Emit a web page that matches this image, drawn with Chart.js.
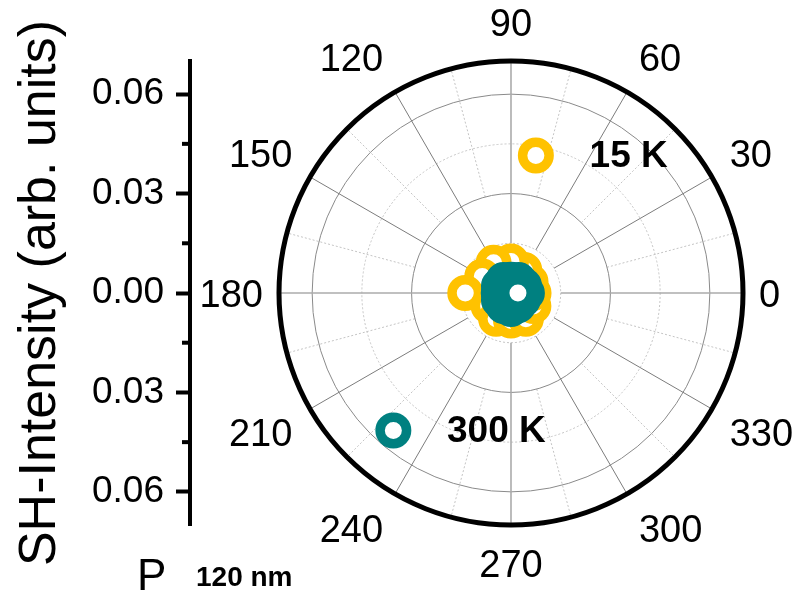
<!DOCTYPE html>
<html>
<head>
<meta charset="utf-8">
<script src="https://cdn.jsdelivr.net/npm/chart.js@4.4.1/dist/chart.umd.min.js"></script>
<style>
  html, body { margin: 0; padding: 0; background: #fff; }
  canvas { display: block; }
</style>
</head>
<body>
<canvas id="shg" width="795" height="600"></canvas>
<script>
// Polarisation angle of the analyser (degrees)
const angles = [0, 30, 60, 90, 120, 150, 180, 210, 240, 270, 300, 330, 360];
// SH intensity (arb. units) at each angle
const intensity15K  = [0.0068, 0.0068, 0.0080, 0.0095, 0.0105, 0.0100, 0.0138, 0.0078, 0.0090, 0.0083, 0.0090, 0.0078, 0.0066];
const intensity300K = [0.0048, 0.0045, 0.0045, 0.0040, 0.0045, 0.0042, 0.0037, 0.0042, 0.0045, 0.0048, 0.0043, 0.0041, 0.0021];
const seriesNames = ['15 K', '300 K'];
const seriesColors = ['#FFC200', '#008080'];

// Polar grid: rings, spokes and their labels
const radialRings = [0.015, 0.03, 0.045, 0.06];
const radialMax = 0.07;
const angleTicks = [0, 30, 60, 90, 120, 150, 180, 210, 240, 270, 300, 330];
const minorAngleTicks = [15, 45, 75, 105, 135, 165, 195, 225, 255, 285, 315, 345];

// Left intensity axis
const intensityMinor = [-0.045, -0.015, 0.015, 0.045];

// Page layout (pixels)
const W = 795, H = 600;
const AREA = { left: 190, right: 790, top: 61, bottom: 525 };
const CENTER_X = 511;
const FONT = '"Liberation Sans", Arial, Helvetica, sans-serif';

function toXY(values) {
  return angles.map((a, i) => {
    const t = a * Math.PI / 180;
    return { x: values[i] * Math.cos(t), y: values[i] * Math.sin(t) };
  });
}

const ring = { radius: 13.25, border: 9.5 };

// Keep the polar plot round: give x the same pixels-per-unit as y, centred on CENTER_X
const equalAspect = {
  id: 'equalAspect',
  afterLayout(chart) {
    const a = chart.chartArea, xs = chart.scales.x;
    const ppu = (a.bottom - a.top) / (2 * radialMax);
    xs.min = (a.left - CENTER_X) / ppu;
    xs.max = (a.right - CENTER_X) / ppu;
    xs.configure();
  }
};

function polarFrame(chart) {
  const xs = chart.scales.x, ys = chart.scales.y;
  const cx = xs.getPixelForValue(0), cy = ys.getPixelForValue(0);
  const rad = v => cy - ys.getPixelForValue(v);
  return { cx, cy, rad };
}

const polarGrid = {
  id: 'polarGrid',
  beforeDatasetsDraw(chart) {
    const { ctx } = chart;
    const { cx, cy, rad } = polarFrame(chart);
    ctx.save();
    // dotted 15-degree spokes
    ctx.strokeStyle = '#c4c4c4';
    ctx.lineWidth = 1;
    ctx.setLineDash([2, 2]);
    for (const a of minorAngleTicks) {
      const t = a * Math.PI / 180;
      const r0 = rad(0.03), r1 = rad(radialMax);
      ctx.beginPath();
      ctx.moveTo(cx + r0 * Math.cos(t), cy - r0 * Math.sin(t));
      ctx.lineTo(cx + r1 * Math.cos(t), cy - r1 * Math.sin(t));
      ctx.stroke();
    }
    // rings
    radialRings.forEach((v, i) => {
      const dotted = i % 2 === 0;
      ctx.setLineDash(dotted ? [2, 2] : []);
      ctx.strokeStyle = dotted ? '#c4c4c4' : '#8a8a8a';
      ctx.lineWidth = 1;
      ctx.beginPath();
      ctx.arc(cx, cy, rad(v), 0, Math.PI * 2);
      ctx.stroke();
    });
    // 30-degree spokes
    ctx.setLineDash([]);
    for (const a of angleTicks) {
      const t = a * Math.PI / 180;
      const cardinal = a % 90 === 0;
      ctx.strokeStyle = cardinal ? '#ababab' : '#7c7c7c';
      ctx.lineWidth = cardinal ? 1.6 : 1;
      const r0 = rad(0.015), r1 = rad(radialMax);
      ctx.beginPath();
      ctx.moveTo(cx + r0 * Math.cos(t), cy - r0 * Math.sin(t));
      ctx.lineTo(cx + r1 * Math.cos(t), cy - r1 * Math.sin(t));
      ctx.stroke();
    }
    // outer frame
    ctx.strokeStyle = '#000';
    ctx.lineWidth = 5;
    ctx.beginPath();
    ctx.arc(cx, cy, rad(radialMax), 0, Math.PI * 2);
    ctx.stroke();
    ctx.restore();
  },
  afterDraw(chart) {
    const { ctx } = chart;
    const { cx, cy, rad } = polarFrame(chart);
    ctx.save();
    // angle labels
    const fs = 38, capH = 0.716 * fs;
    ctx.font = fs + 'px ' + FONT;
    ctx.fillStyle = '#000';
    ctx.textBaseline = 'alphabetic';
    const base = rad(radialMax) + 16;
    for (const a of angleTicks) {
      const t = a * Math.PI / 180;
      const c = Math.cos(t), s = Math.sin(t);
      const R = base + 9 * Math.abs(s);
      const px = cx + R * c, py = cy - R * s;
      ctx.textAlign = c > 0.1 ? 'left' : (c < -0.1 ? 'right' : 'center');
      const y = py + capH * (s > 0.1 ? 0 : (s < -0.1 ? 1 : 0.5));
      ctx.fillText(String(a), px, y);
    }
    // minor ticks of the intensity axis
    const ys = chart.scales.y;
    const axisX = chart.chartArea.left;
    ctx.strokeStyle = '#000';
    ctx.lineWidth = 4;
    for (const v of intensityMinor) {
      const y = ys.getPixelForValue(v);
      ctx.beginPath();
      ctx.moveTo(axisX - 8, y);
      ctx.lineTo(axisX, y);
      ctx.stroke();
    }
    // caption under the axis
    ctx.textAlign = 'left';
    ctx.font = '44px ' + FONT;
    ctx.fillText('P', 137, 590);
    ctx.font = 'bold 28px ' + FONT;
    ctx.fillText('120 nm', 196, 586);
    ctx.restore();
  }
};

// In-plot legend: marker + bold label for each temperature
const legendItems = [
  { marker: { x: 0.0075, y: 0.0415 }, text: { x: 0.0237, y: 0.0410 } },
  { marker: { x: -0.0355, y: -0.0415 }, text: { x: -0.0193, y: -0.0420 } }
];

const inPlotLegend = {
  id: 'inPlotLegend',
  afterDatasetsDraw(chart) {
    const { ctx } = chart;
    const xs = chart.scales.x, ys = chart.scales.y;
    ctx.save();
    legendItems.forEach((item, i) => {
      const mx = xs.getPixelForValue(item.marker.x), my = ys.getPixelForValue(item.marker.y);
      ctx.beginPath();
      ctx.arc(mx, my, ring.radius, 0, Math.PI * 2);
      ctx.fillStyle = '#fff';
      ctx.fill();
      ctx.lineWidth = ring.border;
      ctx.strokeStyle = seriesColors[i];
      ctx.stroke();
      ctx.fillStyle = '#000';
      ctx.font = 'bold 37px ' + FONT;
      ctx.textAlign = 'left';
      ctx.textBaseline = 'middle';
      ctx.fillText(seriesNames[i], xs.getPixelForValue(item.text.x), ys.getPixelForValue(item.text.y));
    });
    ctx.restore();
  }
};

// 300 K is drawn on top of 15 K
const datasets = [intensity15K, intensity300K].map((vals, i) => ({
  label: seriesNames[i],
  data: toXY(vals),
  order: 1 - i,
  showLine: false,
  pointRadius: ring.radius,
  pointHoverRadius: ring.radius,
  pointBorderWidth: ring.border,
  pointHoverBorderWidth: ring.border,
  pointBorderColor: seriesColors[i],
  pointBackgroundColor: '#fff'
}));

new Chart(document.getElementById('shg'), {
  type: 'scatter',
  data: { datasets },
  options: {
    responsive: false,
    animation: false,
    devicePixelRatio: 1,
    events: [],
    layout: { padding: { left: 0, right: W - AREA.right, top: AREA.top, bottom: H - AREA.bottom } },
    plugins: { legend: { display: false }, tooltip: { enabled: false } },
    scales: {
      x: { type: 'linear', min: -0.1, max: 0.1, display: false },
      y: {
        type: 'linear',
        position: 'left',
        min: -radialMax,
        max: radialMax,
        afterFit(scale) { scale.width = AREA.left; },
        border: { display: true, color: '#000', width: 4 },
        grid: { drawOnChartArea: false, tickLength: 14, tickWidth: 4, tickColor: '#000' },
        ticks: {
          stepSize: 0.03,
          includeBounds: false,
          padding: 12,
          color: '#000',
          font: { family: FONT, size: 37 },
          callback: v => Math.abs(v).toFixed(2)
        },
        title: {
          display: true,
          text: 'SH-Intensity (arb. units)',
          color: '#000',
          font: { family: FONT, size: 52 },
          padding: { top: 9, bottom: 0 }
        }
      }
    }
  },
  plugins: [equalAspect, polarGrid, inPlotLegend]
});
</script>
</body>
</html>
